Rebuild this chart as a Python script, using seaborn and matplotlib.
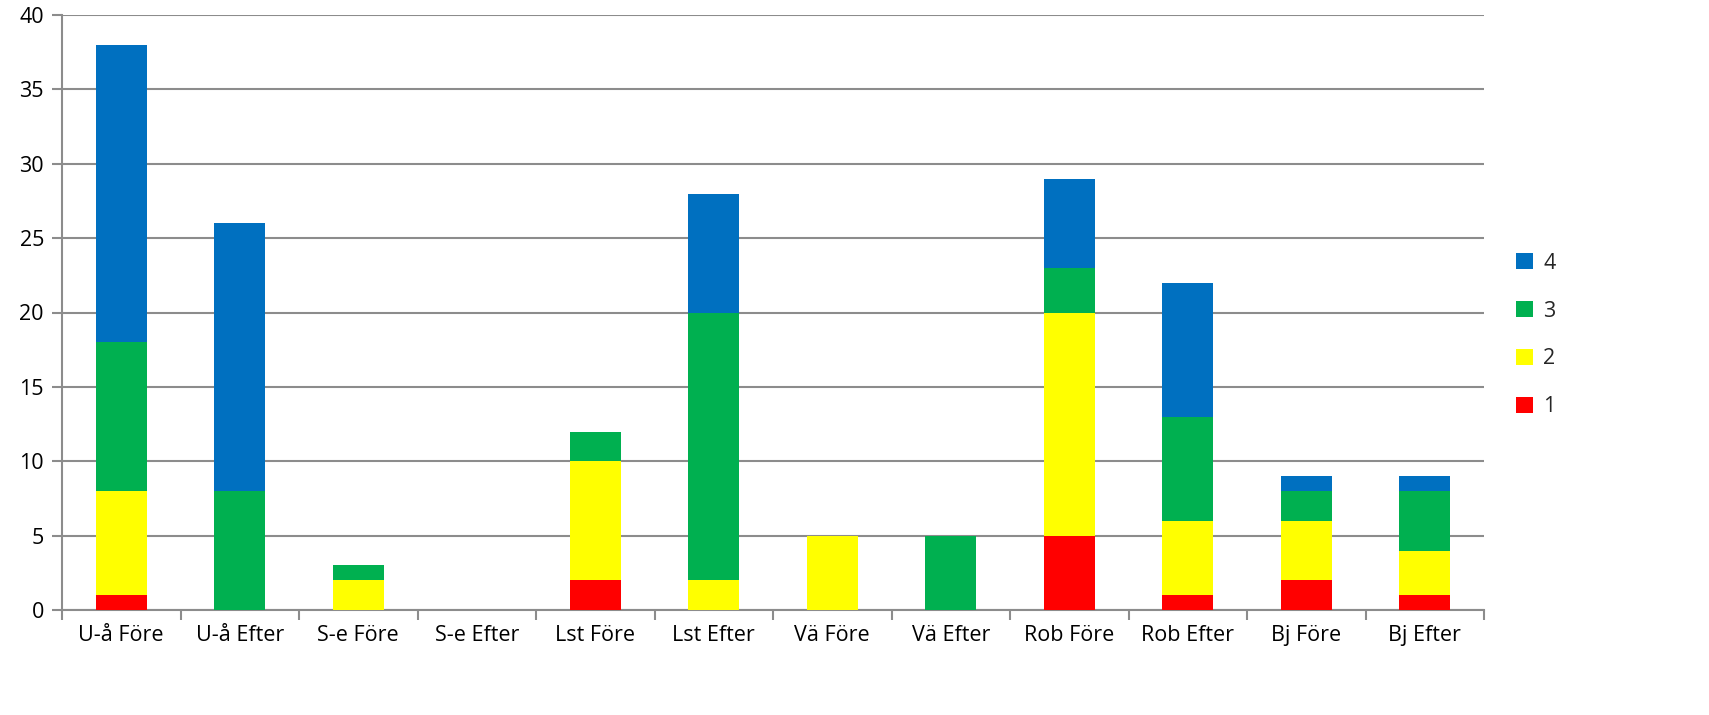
import matplotlib
matplotlib.use("Agg")
import matplotlib.pyplot as plt
import seaborn as sns
import numpy as np
import pandas as pd
from matplotlib.patches import Patch
from matplotlib.ticker import FixedLocator

categories = ["U-å Före", "U-å Efter", "S-e Före", "S-e Efter", "Lst Före", "Lst Efter",
              "Vä Före", "Vä Efter", "Rob Före", "Rob Efter", "Bj Före", "Bj Efter"]
level1 = [1, 0, 0, 0, 2, 0, 0, 0, 5, 1, 2, 1]
level2 = [7, 0, 2, 0, 8, 2, 5, 0, 15, 5, 4, 3]
level3 = [10, 8, 1, 0, 2, 18, 0, 5, 3, 7, 2, 4]
level4 = [20, 18, 0, 0, 0, 8, 0, 0, 6, 9, 1, 1]
series_labels = ["1", "2", "3", "4"]
colors = ["#FF0000", "#FFFF00", "#00B050", "#0070C0"]
yticks = [0, 5, 10, 15, 20, 25, 30, 35, 40]

sns.set_theme(style="white")
plt.rcParams['font.family'] = ['Open Sans', 'DejaVu Sans']

fig = plt.figure(figsize=(17.09, 7.15), dpi=100)
ax = fig.add_axes([62/1709, 1 - 610/715, (1484 - 62)/1709, (610 - 15)/715])

series = [level1, level2, level3, level4]
cum = np.cumsum(np.array(series), axis=0)
# draw from top segment down so lower segments overlay
for i in range(3, -1, -1):
    df = pd.DataFrame({"cat": categories, "val": cum[i]})
    sns.barplot(data=df, x="cat", y="val", order=categories, color=colors[i],
                width=0.43, saturation=1, ax=ax, linewidth=0, zorder=3)

ax.set_ylim(0, 40)
ax.set_xlim(-0.5, len(categories) - 0.5)
ax.set_yticks(yticks)
ax.set_xlabel("")
ax.set_ylabel("")
ax.yaxis.grid(True, color="#8C8C8C", linewidth=1.5, zorder=0)
ax.set_axisbelow(True)
for s in ["top", "right"]:
    ax.spines[s].set_visible(False)
for s in ["left", "bottom"]:
    ax.spines[s].set_color("#8C8C8C")
    ax.spines[s].set_linewidth(1.5)

ax.tick_params(axis="y", which="major", length=7, width=1.5, color="#8C8C8C",
               labelsize=15.5, labelcolor="black", pad=6, left=True)
ax.tick_params(axis="x", which="major", length=0, labelsize=15.5, labelcolor="black", pad=11)
ax.xaxis.set_minor_locator(FixedLocator(np.arange(-0.5, len(categories), 1.0)))
ax.tick_params(axis="x", which="minor", length=7, width=1.5, color="#8C8C8C", bottom=True)

handles = [Patch(facecolor=colors[i], edgecolor="none", label=series_labels[i]) for i in range(3, -1, -1)]
fig.legend(handles=handles, loc="center left", bbox_to_anchor=(1497/1709, 1 - 335/715),
           frameon=False, fontsize=15.5, handlelength=0.75, handleheight=0.75,
           labelspacing=1.25, handletextpad=0.5)

fig.savefig("out.png", dpi=100, facecolor="white")
